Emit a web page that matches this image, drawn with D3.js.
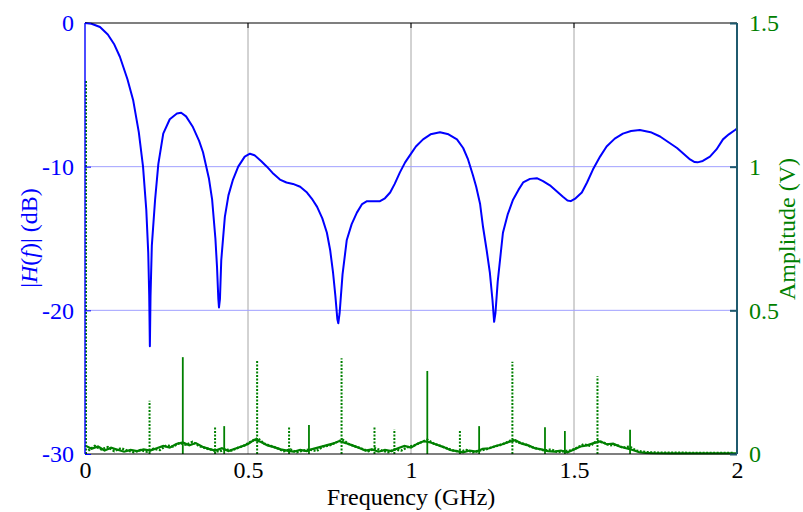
<!DOCTYPE html>
<html><head><meta charset="utf-8">
<script src="https://cdn.jsdelivr.net/npm/d3@7"></script>
<style>body{margin:0;background:#fff}svg{display:block}svg text{font-family:"Liberation Serif","Times New Roman",Times,serif !important}</style>
</head><body><svg id="c" width="803" height="512"></svg>
<script>
// |H(f)| in dB
const hFreq = [0,0.02,0.046,0.07,0.09,0.107,0.13,0.148,0.165,0.178,0.188,0.194,0.197,0.199,0.201,0.205,0.215,0.225,0.24,0.26,0.282,0.295,0.31,0.33,0.35,0.362,0.38,0.39,0.4,0.405,0.409,0.411,0.414,0.418,0.429,0.44,0.454,0.47,0.49,0.506,0.52,0.54,0.558,0.578,0.598,0.618,0.638,0.66,0.681,0.698,0.712,0.728,0.742,0.752,0.761,0.768,0.774,0.777,0.781,0.79,0.803,0.818,0.834,0.85,0.865,0.885,0.905,0.92,0.936,0.95,0.966,0.982,0.997,1.015,1.037,1.06,1.089,1.115,1.141,1.16,1.175,1.19,1.2,1.212,1.221,1.232,1.242,1.25,1.255,1.259,1.266,1.282,1.297,1.313,1.33,1.344,1.365,1.386,1.405,1.426,1.446,1.466,1.48,1.49,1.505,1.524,1.54,1.558,1.58,1.6,1.625,1.65,1.675,1.702,1.735,1.764,1.79,1.816,1.836,1.856,1.87,1.879,1.895,1.917,1.937,1.957,1.975,1.994,2.0];
const hDb = [0,-0.05,-0.28,-0.8,-1.5,-2.35,-3.9,-5.4,-7.6,-10,-13,-16,-19,-22.5,-19,-15.5,-12.3,-9.8,-7.7,-6.7,-6.3,-6.25,-6.5,-7.2,-8.2,-9.0,-10.8,-12.3,-15,-17,-19.2,-19.8,-19.2,-16.5,-13.5,-12,-10.9,-10,-9.3,-9.1,-9.2,-9.6,-10,-10.5,-10.9,-11.1,-11.2,-11.4,-11.8,-12.3,-12.8,-13.6,-14.6,-15.8,-17.4,-19,-20.6,-20.9,-20.2,-17.5,-15.1,-14,-13.2,-12.6,-12.4,-12.4,-12.4,-12.2,-11.8,-11.2,-10.4,-9.7,-9.2,-8.6,-8.1,-7.75,-7.6,-7.75,-8.1,-8.7,-9.5,-10.6,-11.4,-12.6,-14.2,-15.8,-17.4,-19.3,-20.8,-20.2,-18,-14.6,-13.3,-12.3,-11.6,-11.1,-10.85,-10.8,-11,-11.3,-11.7,-12.1,-12.35,-12.4,-12.2,-11.8,-11.1,-10.2,-9.3,-8.6,-8.05,-7.7,-7.52,-7.45,-7.6,-7.9,-8.3,-8.7,-9.1,-9.5,-9.68,-9.7,-9.6,-9.3,-8.8,-8.1,-7.75,-7.45,-7.35];

// Amplitude spectra (V): spectral lines
const spikeFreqSolid = [0.3,0.427,0.687,1.05,1.209,1.411,1.472,1.672];
const spikeAmpSolid  = [0.337,0.097,0.101,0.289,0.097,0.093,0.08,0.084];
const spikeFreqDotted = [0,0.198,0.399,0.528,0.626,0.787,0.888,0.949,1.15,1.311,1.572];
const spikeAmpDotted  = [1.3,0.185,0.097,0.325,0.093,0.333,0.095,0.086,0.08,0.321,0.271];

// Amplitude spectra (V): noise floor
const noiseFreqSolid = [0,0.02,0.04,0.06,0.08,0.1,0.12,0.14,0.16,0.18,0.2,0.22,0.24,0.26,0.28,0.3,0.32,0.34,0.36,0.38,0.4,0.42,0.44,0.46,0.48,0.5,0.52,0.54,0.56,0.58,0.6,0.62,0.64,0.66,0.68,0.7,0.72,0.74,0.76,0.78,0.8,0.82,0.84,0.86,0.88,0.9,0.92,0.94,0.96,0.98,1,1.02,1.04,1.06,1.08,1.1,1.12,1.14,1.16,1.18,1.2,1.22,1.24,1.26,1.28,1.3,1.32,1.34,1.36,1.38,1.4,1.42,1.44,1.46,1.48,1.5,1.52,1.54,1.56,1.58,1.6,1.62,1.64,1.66,1.68,1.7,1.72,1.74,1.8,1.9,2.0];
const noiseAmpSolid = [0.03,0.018,0.026,0.012,0.022,0.015,0.008,0.014,0.01,0.016,0.012,0.02,0.028,0.022,0.035,0.04,0.03,0.038,0.025,0.018,0.012,0.02,0.01,0.018,0.026,0.035,0.05,0.042,0.03,0.024,0.016,0.012,0.008,0.014,0.01,0.018,0.024,0.03,0.036,0.045,0.038,0.03,0.022,0.012,0.016,0.008,0.014,0.01,0.02,0.028,0.022,0.036,0.045,0.04,0.032,0.024,0.014,0.01,0.006,0.012,0.008,0.018,0.02,0.028,0.034,0.042,0.048,0.036,0.03,0.02,0.016,0.01,0.008,0.012,0.006,0.016,0.026,0.03,0.038,0.044,0.034,0.036,0.026,0.02,0.014,0.006,0.004,0.003,0.002,0.002,0.002];
const noiseFreqDotted = [0.01,0.03,0.05,0.07,0.09,0.11,0.13,0.15,0.17,0.19,0.21,0.23,0.25,0.27,0.29,0.31,0.33,0.35,0.37,0.39,0.41,0.43,0.45,0.47,0.49,0.51,0.53,0.55,0.57,0.59,0.61,0.63,0.65,0.67,0.69,0.71,0.73,0.75,0.77,0.79,0.81,0.83,0.85,0.87,0.89,0.91,0.93,0.95,0.97,0.99,1.01,1.03,1.05,1.07,1.09,1.11,1.13,1.15,1.17,1.19,1.21,1.23,1.25,1.27,1.29,1.31,1.33,1.35,1.37,1.39,1.41,1.43,1.45,1.47,1.49,1.51,1.53,1.55,1.57,1.59,1.61,1.63,1.65,1.67,1.69,1.71,1.73,1.75,1.85,1.99];
const noiseAmpDotted = [0.012,0.028,0.016,0.024,0.01,0.02,0.012,0.006,0.014,0.008,0.018,0.014,0.03,0.026,0.038,0.032,0.042,0.028,0.02,0.014,0.008,0.016,0.012,0.022,0.03,0.044,0.055,0.036,0.028,0.02,0.01,0.016,0.006,0.012,0.016,0.01,0.026,0.03,0.04,0.05,0.034,0.026,0.018,0.01,0.02,0.012,0.006,0.016,0.012,0.024,0.03,0.04,0.05,0.036,0.028,0.02,0.012,0.008,0.014,0.006,0.012,0.016,0.024,0.03,0.038,0.05,0.04,0.034,0.024,0.018,0.012,0.016,0.006,0.01,0.012,0.022,0.034,0.028,0.046,0.04,0.03,0.032,0.022,0.026,0.012,0.008,0.006,0.005,0.004,0.004];

const xTicks = [0,0.5,1,1.5,2];
const xTickLabels = ["0","0.5","1","1.5","2"];
const yLeftTicks = [0,-10,-20,-30];
const yLeftTickLabels = ["0","-10","-20","-30"];
const yRightTicks = [0,0.5,1,1.5];
const yRightTickLabels = ["0","0.5","1","1.5"];

const FONT = "'Liberation Serif','Times New Roman',Times,serif";
const W = 803, H = 512;
const m = {l:85, r:66, t:23, b:58};
const svg = d3.select("#c");
const x = d3.scaleLinear().domain([0,2]).range([m.l, W-m.r]);
const yL = d3.scaleLinear().domain([-30,0]).range([H-m.b, m.t]);
const yR = d3.scaleLinear().domain([0,1.5]).range([H-m.b, m.t]);
const BLUE = "#0000ff", GREEN = "#008000", TEAL = "#1f5a6e";

// grid
svg.append("g").selectAll("line").data([0.5,1,1.5]).join("line")
  .attr("x1",d=>x(d)).attr("x2",d=>x(d)).attr("y1",m.t).attr("y2",H-m.b)
  .attr("stroke","#a6a6a6").attr("stroke-width",1);
svg.append("g").selectAll("line").data([-10,-20]).join("line")
  .attr("x1",m.l).attr("x2",W-m.r).attr("y1",d=>yL(d)).attr("y2",d=>yL(d))
  .attr("stroke","#a0a0ff").attr("stroke-width",1);

// blue curve
const hData = hFreq.map((f,i)=>[f,hDb[i]]);
svg.append("path").datum(hData)
  .attr("d", d3.line().x(d=>x(d[0])).y(d=>yL(d[1])))
  .attr("fill","none").attr("stroke",BLUE).attr("stroke-width",2).attr("stroke-linejoin","round");

// green noise floor
const lineR = d3.line().x(d=>x(d[0])).y(d=>yR(d[1]));
svg.append("path").datum(noiseFreqSolid.map((f,i)=>[f,noiseAmpSolid[i]]))
  .attr("d",lineR).attr("fill","none").attr("stroke",GREEN).attr("stroke-width",2.2);
svg.append("path").datum(noiseFreqDotted.map((f,i)=>[f,noiseAmpDotted[i]]))
  .attr("d",lineR).attr("fill","none").attr("stroke",GREEN).attr("stroke-width",2.4).attr("stroke-dasharray","2,1.5");

// green spectral lines
svg.append("g").selectAll("line").data(spikeFreqSolid.map((f,i)=>[f,spikeAmpSolid[i]])).join("line")
  .attr("x1",d=>x(d[0])).attr("x2",d=>x(d[0])).attr("y1",yR(0)).attr("y2",d=>yR(d[1]))
  .attr("stroke",GREEN).attr("stroke-width",1.8);
svg.append("g").selectAll("line").data(spikeFreqDotted.map((f,i)=>[f,spikeAmpDotted[i]])).join("line")
  .attr("x1",d=>x(d[0])+(d[0]===0?1:0)).attr("x2",d=>x(d[0])+(d[0]===0?1:0)).attr("y1",yR(0)).attr("y2",d=>yR(d[1]))
  .attr("stroke",GREEN).attr("stroke-width",2).attr("stroke-dasharray","2,1.5");

// frame
svg.append("line").attr("x1",m.l).attr("x2",W-m.r).attr("y1",m.t).attr("y2",m.t).attr("stroke","#000").attr("stroke-width",1.2);
svg.append("line").attr("x1",m.l).attr("x2",W-m.r).attr("y1",H-m.b).attr("y2",H-m.b).attr("stroke","#000").attr("stroke-width",1.2);
svg.append("line").attr("x1",m.l).attr("x2",m.l).attr("y1",m.t).attr("y2",H-m.b).attr("stroke",BLUE).attr("stroke-width",1.4);
svg.append("line").attr("x1",W-m.r).attr("x2",W-m.r).attr("y1",m.t).attr("y2",H-m.b).attr("stroke",TEAL).attr("stroke-width",2);

// x axis (bottom labels, top ticks)
const xAxis = svg.append("g").attr("transform",`translate(0,${H-m.b})`)
  .call(d3.axisBottom(x).tickValues(xTicks).tickFormat((d,i)=>xTickLabels[i]).tickSize(0).tickPadding(7));
xAxis.select(".domain").remove();
xAxis.attr("font-family",FONT);
xAxis.selectAll("text").attr("font-size",24).attr("fill","#000");
svg.append("g").selectAll("line").data([0.5,1,1.5]).join("line")
  .attr("x1",d=>x(d)).attr("x2",d=>x(d)).attr("y1",m.t).attr("y2",m.t+5).attr("stroke","#000").attr("stroke-width",1);

// left axis
const yAxisL = svg.append("g").attr("transform",`translate(${m.l},0)`)
  .call(d3.axisLeft(yL).tickValues(yLeftTicks).tickFormat((d,i)=>yLeftTickLabels[i]).tickSizeInner(-6).tickSizeOuter(0).tickPadding(11));
yAxisL.select(".domain").remove();
yAxisL.attr("font-family",FONT);
yAxisL.selectAll("line").attr("stroke",BLUE);
yAxisL.selectAll("text").attr("font-size",24).attr("fill",BLUE);

// right axis
const yAxisR = svg.append("g").attr("transform",`translate(${W-m.r},0)`)
  .call(d3.axisRight(yR).tickValues(yRightTicks).tickFormat((d,i)=>yRightTickLabels[i]).tickSizeInner(-7).tickSizeOuter(0).tickPadding(12));
yAxisR.select(".domain").remove();
yAxisR.attr("font-family",FONT);
yAxisR.selectAll("line").attr("stroke",TEAL).attr("stroke-width",2);
yAxisR.selectAll("text").attr("font-size",24).attr("fill",GREEN);

// titles
svg.append("text").attr("x",(m.l+W-m.r)/2).attr("y",505).attr("text-anchor","middle")
  .attr("font-family",FONT).attr("font-size",24).attr("fill","#000").text("Frequency (GHz)");
const lt = svg.append("text").attr("transform","translate(37,238) rotate(-90)").attr("text-anchor","middle")
  .attr("font-family",FONT).attr("font-size",24).attr("fill",BLUE);
lt.append("tspan").text("|");
lt.append("tspan").attr("font-style","italic").text("H");
lt.append("tspan").text("(");
lt.append("tspan").attr("font-style","italic").text("f");
lt.append("tspan").text(")| (dB)");
svg.append("text").attr("transform","translate(795,229) rotate(-90)").attr("text-anchor","middle")
  .attr("font-family",FONT).attr("font-size",24).attr("fill",GREEN).text("Amplitude (V)");
</script></body></html>
